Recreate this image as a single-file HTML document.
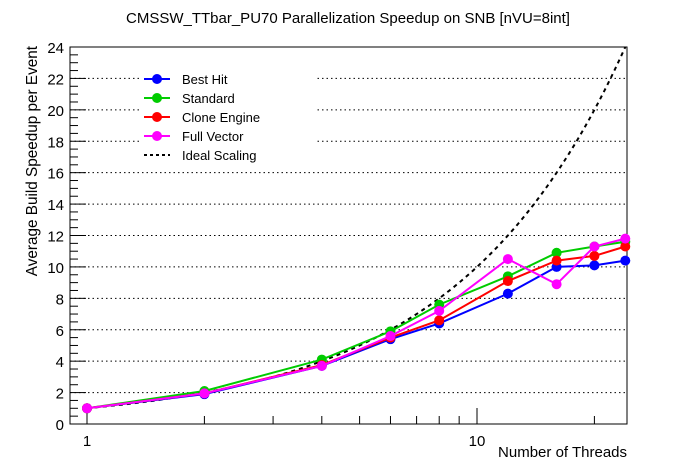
<!DOCTYPE html>
<html><head><meta charset="utf-8"><style>
body{margin:0;background:#fff;}
svg{display:block;font-family:"Liberation Sans",sans-serif;}
</style></head><body>
<svg id="s" width="696" height="472" xmlns="http://www.w3.org/2000/svg">
<rect width="696" height="472" fill="#fff"/>
<text x="348" y="23" font-size="15" text-anchor="middle">CMSSW_TTbar_PU70 Parallelization Speedup on SNB [nVU=8int]</text>
<text transform="translate(37,46) rotate(-90)" font-size="15.3" text-anchor="end">Average Build Speedup per Event</text>
<text x="627" y="457" font-size="15" text-anchor="end">Number of Threads</text>
<g id="g"></g>
</svg>
<script>
const L=70,R=627,T=47,B=424;
const X=v=>87+390*Math.log10(v);
const Y=v=>B-(B-T)*v/24;
let h='';
for(let v=2;v<=24;v+=2){h+=`<line x1="${L}" x2="${R}" y1="${Y(v)}" y2="${Y(v)}" stroke="#000" stroke-dasharray="1.5,3" stroke-width="1"/>`;}
h+=`<rect x="140" y="68" width="175" height="98" fill="#fff"/>`;
h+=`<rect x="${L}" y="${T}" width="${R-L}" height="${B-T}" fill="none" stroke="#000"/>`;
for(let v=0;v<=24;v+=0.5){const big=v%2==0;h+=`<line x1="${L}" x2="${L+(big?16:8)}" y1="${Y(v)}" y2="${Y(v)}" stroke="#000"/>`;
if(big)h+=`<text x="${L-6}" y="${Y(v)+6}" font-size="15" text-anchor="end">${v}</text>`;}
[1,2,3,4,5,6,7,8,9,10,20].forEach(v=>{const big=(v==1||v==10);h+=`<line x1="${X(v)}" x2="${X(v)}" y1="${B}" y2="${B-(big?16:8)}" stroke="#000"/>`;
if(big)h+=`<text x="${X(v)}" y="${B+22}" font-size="15" text-anchor="middle">${v}</text>`;});
const th=[1,2,4,6,8,12,16,20,24];
let p=[];for(let t=1;t<=24;t+=0.25)p.push(X(t)+','+Y(t));
h+=`<polyline points="${p.join(' ')}" fill="none" stroke="#000" stroke-width="2" stroke-dasharray="4,4"/>`;
const S=[
['#0000ff',[1,1.9,3.7,5.4,6.4,8.3,10.0,10.1,10.4]],
['#00cc00',[1,2.1,4.1,5.9,7.6,9.4,10.9,11.3,11.6]],
['#ff0000',[1,1.95,3.75,5.5,6.6,9.1,10.4,10.7,11.3]],
['#ff00ff',[1,1.95,3.7,5.6,7.2,10.5,8.9,11.3,11.8]]];
S.forEach(([c,d])=>{h+=`<polyline points="${d.map((v,i)=>X(th[i])+','+Y(v)).join(' ')}" fill="none" stroke="${c}" stroke-width="2"/>`;
d.forEach((v,i)=>h+=`<circle cx="${X(th[i])}" cy="${Y(v)}" r="5" fill="${c}"/>`);});
const lg=[['#0000ff','Best Hit'],['#00cc00','Standard'],['#ff0000','Clone Engine'],['#ff00ff','Full Vector']];
lg.forEach(([c,n],i)=>{const y=79+19*i;h+=`<line x1="144" x2="170" y1="${y}" y2="${y}" stroke="${c}" stroke-width="2"/><circle cx="157" cy="${y}" r="5" fill="${c}"/><text x="182" y="${y+5}" font-size="13">${n}</text>`;});
h+=`<line x1="144" x2="170" y1="155" y2="155" stroke="#000" stroke-width="2" stroke-dasharray="3,3"/><text x="182" y="160" font-size="13">Ideal Scaling</text>`;
document.getElementById('g').innerHTML=h;
</script>
</body></html>
